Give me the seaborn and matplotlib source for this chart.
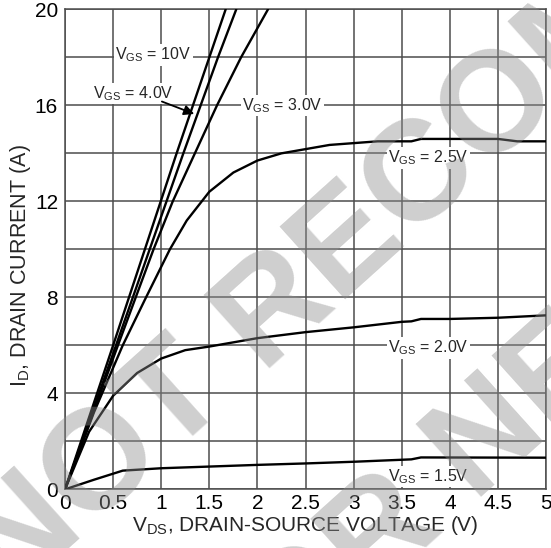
import numpy as np
import pandas as pd
import matplotlib
matplotlib.use("Agg")
import matplotlib.pyplot as plt
import seaborn as sns

# ---- data ----
vgs_10_x = [0, 0.5, 0.83, 1.16, 1.33, 1.50, 1.67]
vgs_10_y = [0, 6.0, 10.0, 14.0, 16.0, 18.0, 20.0]
vgs_4_x = [0, 0.53, 0.88, 1.23, 1.41, 1.59, 1.78]
vgs_4_y = [0, 6.0, 10.0, 14.0, 16.0, 18.0, 20.0]
vgs_3_x = [0, 0.55, 0.92, 1.12, 1.35, 1.58, 1.83, 2.11]
vgs_3_y = [0, 6.0, 10.0, 12.0, 14.0, 16.0, 18.0, 20.0]
vgs_25_x = [0, 0.3, 0.6, 0.83, 1.09, 1.265, 1.5, 1.75, 2.0, 2.25, 2.75, 3.25, 3.6, 3.7, 4.5, 4.7, 5.0]
vgs_25_y = [0, 3.2, 6.0, 7.9, 10.0, 11.2, 12.4, 13.2, 13.7, 14.0, 14.35, 14.5, 14.5, 14.6, 14.6, 14.5, 14.5]
vgs_20_x = [0, 0.25, 0.5, 0.75, 1.0, 1.25, 1.5, 2.0, 2.5, 3.0, 3.5, 3.6, 3.7, 4.0, 4.5, 5.0]
vgs_20_y = [0, 2.4, 3.9, 4.85, 5.45, 5.8, 5.95, 6.3, 6.55, 6.75, 6.98, 7.0, 7.1, 7.1, 7.15, 7.25]
vgs_15_x = [0, 0.3, 0.6, 1.0, 2.0, 2.5, 3.0, 3.6, 3.7, 5.0]
vgs_15_y = [0, 0.4, 0.78, 0.88, 1.02, 1.08, 1.15, 1.25, 1.33, 1.32]

series_names = ["10V", "4.0V", "3.0V", "2.5V", "2.0V", "1.5V"]
series_x = [vgs_10_x, vgs_4_x, vgs_3_x, vgs_25_x, vgs_20_x, vgs_15_x]
series_y = [vgs_10_y, vgs_4_y, vgs_3_y, vgs_25_y, vgs_20_y, vgs_15_y]

x_ticks = [0, 0.5, 1, 1.5, 2, 2.5, 3, 3.5, 4, 4.5, 5]
x_tick_labels = ["0", "0.5", "1", "1.5", "2", "2.5", "3", "3.5", "4", "4.5", "5"]
y_ticks = [0, 4, 8, 12, 16, 20]
y_tick_labels = ["0", "4", "8", "12", "16", "20"]

# label positions (data coords)
label_pos = {"10V": (0.92, 18.1), "4.0V": (0.71, 16.5), "3.0V": (2.26, 16.0),
             "2.5V": (3.78, 13.8), "2.0V": (3.78, 5.9), "1.5V": (3.78, 0.53)}

frames = []
for name, xs, ys in zip(series_names, series_x, series_y):
    frames.append(pd.DataFrame({"VDS": xs, "ID": ys, "VGS": name}))
df = pd.concat(frames, ignore_index=True)

sns.set_theme(style="white")
plt.rcParams['font.family'] = ['Liberation Sans', 'DejaVu Sans']

fig = plt.figure(figsize=(5.51, 5.48), dpi=100)
ax = fig.add_axes([0.118, 0.107, 0.873, 0.876])

sns.lineplot(data=df, x="VDS", y="ID", hue="VGS", units="VGS", estimator=None,
             sort=False, palette=["black"] * 6, linewidth=1.7, legend=False, ax=ax,
             zorder=3)

ax.set_xlim(0, 5)
ax.set_ylim(0, 20)
ax.set_xticks(x_ticks)
ax.set_xticklabels(x_tick_labels)
ax.set_yticks(y_ticks)
ax.set_yticklabels(y_tick_labels)
ax.set_yticks([2, 6, 10, 14, 18], minor=True)
ax.grid(True, which="both", color="#4d4d4d", linewidth=1.1)
ax.tick_params(axis="both", which="both", length=0, labelsize=15, colors="black")
ax.tick_params(axis="x", pad=3)
ax.tick_params(axis="y", pad=5)
for s in ax.spines.values():
    s.set_color("#4d4d4d")
    s.set_linewidth(1.1)

ax.set_xlabel("V$_{\\mathregular{DS}}$, DRAIN-SOURCE VOLTAGE (V)", fontsize=15, labelpad=1)
ax.set_ylabel("I$_{\\mathregular{D}}$, DRAIN CURRENT (A)", fontsize=15.5)
ax.yaxis.set_label_coords(-0.066, 0.467)

for name in series_names:
    x, y = label_pos[name]
    ax.text(x, y, "V$_{\\mathregular{GS}}$ = " + name, fontsize=11.5, ha="center", va="center",
            zorder=4, bbox=dict(facecolor="white", edgecolor="none", pad=1.0))

ax.annotate("", xy=(1.37, 15.6), xytext=(0.98, 16.2),
            arrowprops=dict(arrowstyle="-|>", color="black", lw=1.3, mutation_scale=15),
            zorder=5)

# watermark
wm_kw = dict(fontsize=102, fontweight="bold", color="0.55", alpha=0.42, rotation=42,
             rotation_mode="anchor", ha="left", va="center", zorder=10)
fig.text(-0.025, -0.045, "NOT RECOMMENDED", transform=fig.transFigure, **wm_kw)
fig.text(0.36, -0.28, "FOR NEW DESIGN", transform=fig.transFigure, **wm_kw)

fig.savefig("out.png", dpi=100)
